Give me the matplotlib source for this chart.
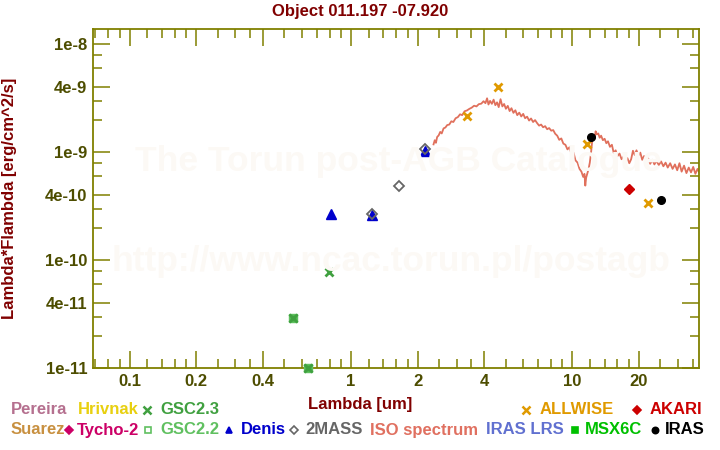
import matplotlib
matplotlib.use('Agg')
import matplotlib.pyplot as plt
from matplotlib.lines import Line2D
import numpy as np

plt.rcParams['font.family'] = ['Liberation Sans', 'DejaVu Sans']
plt.rcParams['font.weight'] = 'bold'

# photometry: wavelength [um], lambda*F_lambda [erg/cm^2/s]
gsc22_wl = [0.548, 0.641]
gsc22_flux = [2.9e-11, 1.0e-11]
gsc23_wl = [0.548, 0.641, 0.798]
gsc23_flux = [2.9e-11, 1.0e-11, 7.7e-11]
denis_wl = [0.81, 1.24, 2.15]
denis_flux = [2.67e-10, 2.6e-10, 1.02e-9]
twomass_wl = [1.24, 1.65, 2.17]
twomass_flux = [2.67e-10, 4.84e-10, 1.07e-9]
allwise_wl = [3.35, 4.6, 11.6, 22.1]
allwise_flux = [2.18e-9, 4.0e-9, 1.19e-9, 3.37e-10]
akari_wl = [18.1]
akari_flux = [4.6e-10]
iras_wl = [12.1, 25.3]
iras_flux = [1.38e-9, 3.6e-10]

# ISO SWS spectrum, flux in units of 1e-10
iso_wl = [2.36, 2.39, 2.42, 2.45, 2.49, 2.53, 2.57, 2.62, 2.67, 2.72, 2.78, 2.84,
          2.90, 2.97, 3.04, 3.11, 3.18, 3.26, 3.34, 3.42, 3.51, 3.60, 3.69, 3.78,
          3.88, 3.97, 4.05, 4.12, 4.18, 4.25,
          4.33, 4.41, 4.49, 4.57, 4.65, 4.74, 4.83, 4.92, 5.01, 5.11, 5.21, 5.31,
          5.42, 5.53, 5.64, 5.76, 5.88, 6.00, 6.12, 6.25, 6.38, 6.51, 6.65, 6.79,
          6.93, 7.08, 7.23, 7.38, 7.54, 7.70, 7.86, 8.03, 8.20, 8.37, 8.55, 8.73,
          8.92, 9.11, 9.31, 9.51, 9.71, 9.92,
          10.13, 10.34, 10.56, 10.78, 11.00, 11.20, 11.35, 11.45, 11.55, 11.70,
          11.85, 12.00, 12.15, 12.30, 12.45, 12.60, 12.75, 12.90, 13.10,
          13.30, 13.50, 13.75, 14.00, 14.25, 14.50, 14.80, 15.10, 15.40, 15.70,
          16.00, 16.35, 16.70, 17.05, 17.40, 17.75, 18.10, 18.45, 18.80, 19.15,
          19.50, 19.90, 20.30, 20.70, 21.10, 21.55, 22.00, 22.50, 23.00, 23.50,
          24.00, 24.60, 25.20, 25.80, 26.40, 27.00, 27.70, 28.40, 29.10, 29.80,
          30.50, 31.20, 32.00, 32.80, 33.60, 34.40, 35.20, 36.00, 36.80, 37.60, 38.40]
iso_flux = [11.8, 12.9, 12.2, 13.8, 14.3, 15.4, 14.9, 16.6, 16.9, 17.8, 18.0, 19.3,
            19.0, 20.6, 21.1, 22.4, 22.0, 23.9, 24.3, 25.1, 25.8, 26.9, 26.5, 27.8,
            28.1, 29.6, 28.4, 31.5, 27.6, 29.8,
            28.0, 30.6, 27.2, 28.9, 26.1, 30.9, 26.5, 27.9, 25.2, 26.8, 24.0, 25.5,
            23.1, 24.4, 22.0, 23.2, 21.4, 22.6, 20.6, 21.3, 19.6, 20.5, 19.0, 19.8,
            18.6, 17.6, 18.0, 17.0, 17.4, 16.3, 16.7, 15.8, 16.0, 14.8, 14.2, 13.0,
            13.4, 12.0, 11.7, 10.6, 11.1, 9.6,
            9.9, 8.4, 8.0, 7.0, 6.6, 5.9, 6.3, 4.9, 5.8, 6.4,
            7.0, 8.0, 9.8, 12.6, 14.0, 13.2, 15.6, 14.6, 14.9,
            13.6, 14.2, 12.9, 13.3, 12.1, 12.6, 11.2, 11.7, 9.8, 10.4,
            9.2, 9.7, 8.6, 9.1, 8.2, 8.8, 7.9, 8.6, 10.3, 9.4,
            10.4, 9.3, 9.9, 8.5, 9.2, 8.1, 8.8, 7.8, 8.5, 7.7,
            8.3, 7.6, 8.2, 7.4, 8.0, 7.2, 7.9, 7.0, 7.7, 6.8,
            7.9, 6.6, 7.5, 6.4, 7.2, 6.5, 7.3, 6.3, 7.0, 6.4, 6.9]

x_major = [0.1, 0.2, 0.4, 1, 2, 4, 10, 20]
x_major_labels = ['0.1', '0.2', '0.4', '1', '2', '4', '10', '20']
x_minor = [0.07, 0.08, 0.09, 0.12, 0.14, 0.16, 0.18, 0.25, 0.3, 0.35,
           0.5, 0.6, 0.7, 0.8, 0.9, 1.2, 1.4, 1.6, 1.8, 2.5, 3, 3.5,
           5, 6, 7, 8, 9, 12, 14, 16, 18, 25, 30, 35]
y_major = [1e-11, 4e-11, 1e-10, 4e-10, 1e-9, 4e-9, 1e-8]
y_major_labels = ['1e-11', '4e-11', '1e-10', '4e-10', '1e-9', '4e-9', '1e-8']
y_minor = [2e-11, 3e-11, 6e-11, 8e-11, 2e-10, 3e-10, 6e-10, 8e-10,
           2e-9, 3e-9, 6e-9, 8e-9]

W, H = 720, 450
fig = plt.figure(figsize=(W / 100, H / 100), dpi=100)
ax = fig.add_axes([92.7 / W, 1 - 368.3 / H, (699.3 - 92.7) / W, (368.3 - 29.3) / H])

olive = '#808000'
ticklab = '#4d4d00'
dark_red = '#800000'
fs = 12

# faint watermark
fig.text(398 / W, 1 - 162 / H, 'The Torun post-AGB Catalogue', ha='center', va='center',
         fontsize=25.5, color='#fcf9f5', zorder=0)
fig.text(391 / W, 1 - 262 / H, 'http://www.ncac.torun.pl/postagb', ha='center', va='center',
         fontsize=25.5, color='#fcf9f5', zorder=0)
ax.patch.set_alpha(0)

ax.plot(iso_wl, np.array(iso_flux) * 1e-10, color='#e0705c', lw=1.3, zorder=2)

kw = dict(ls='none', clip_on=False, zorder=4)
ax.plot(gsc22_wl, gsc22_flux, marker='s', ms=6, mfc='#4cb84c', mec='#60c060', mew=1, **kw)
ax.plot(gsc23_wl, gsc23_flux, marker='x', ms=5.5, mec='#40a040', mew=2, **kw)
ax.plot(denis_wl, denis_flux, marker='^', ms=6.5, color='#0000cc', **kw)
ax.plot(twomass_wl, twomass_flux, marker='D', ms=5.5, mfc='none', mec='#666666', mew=1.3, **kw)
ax.plot(allwise_wl, allwise_flux, marker='x', ms=6, mec='#e09a00', mew=2, **kw)
ax.plot(akari_wl, akari_flux, marker='D', ms=5.5, color='#cc0000', **kw)
ax.plot(iras_wl, iras_flux, marker='o', ms=5.5, color='black', **kw)

ax.set_xscale('log')
ax.set_yscale('log')
ax.set_xlim(0.068, 37.5)
ax.set_ylim(1e-11, 1.37e-8)

ax.set_xticks(x_major)
ax.set_xticklabels(x_major_labels)
ax.set_xticks(x_minor, minor=True)
ax.set_xticklabels([], minor=True)
ax.set_yticks(y_major)
ax.set_yticklabels(y_major_labels)
ax.set_yticks(y_minor, minor=True)
ax.set_yticklabels([], minor=True)

ax.tick_params(which='both', direction='in', top=True, right=True, color=olive,
               labelcolor=ticklab, labelsize=fs, width=1.1)
ax.tick_params(which='major', length=12.5, pad=4)
ax.tick_params(which='minor', length=6.5)
for s in ax.spines.values():
    s.set_color(olive)
    s.set_linewidth(1.3)

fig.text(360 / W, 1 - 11.5 / H, 'Object 011.197 -07.920', ha='center', va='center',
         fontsize=fs, color=dark_red)
fig.text(360 / W, 1 - 404 / H, 'Lambda [um]', ha='center', va='center',
         fontsize=fs, color=dark_red)
fig.text(10 / W, 1 - 198 / H, 'Lambda*Flambda [erg/cm^2/s]', ha='center', va='center',
         rotation=90, fontsize=fs, color=dark_red)

# legend rows
legend_items = [
    (10.7, 410, None, 'Pereira', '#b5708f'),
    (77.7, 410, None, 'Hrivnak', '#e8d010'),
    (160.7, 410, ('x', 146.7, '#40a040', True), 'GSC2.3', '#40a040'),
    (540, 410, ('x', 525.7, '#e09a00', True), 'ALLWISE', '#e09a00'),
    (650, 410, ('D', 636.7, '#cc0000', True), 'AKARI', '#cc0000'),
    (10.7, 430, None, 'Suarez', '#c89040'),
    (77.3, 430, ('D', 68.5, '#cc0066', True), 'Tycho-2', '#cc0066'),
    (160.7, 430, ('s', 147.7, '#60c060', False), 'GSC2.2', '#60c060'),
    (240.7, 430, ('^', 228.7, '#0000cc', True), 'Denis', '#0000cc'),
    (305, 430, ('D', 293.7, '#666666', False), '2MASS', '#666666'),
    (370, 430, None, 'ISO spectrum', '#e07060'),
    (485.7, 430, None, 'IRAS LRS', '#6070d0'),
    (585, 430, ('s', 575.3, '#00c000', True), 'MSX6C', '#00c000'),
    (665, 430, ('o', 655, 'black', True), 'IRAS', 'black'),
]
for tx, ty, mk, label, col in legend_items:
    fig.text(tx / W, 1 - ty / H, label, ha='left', va='center', fontsize=fs, color=col)
    if mk is not None:
        m, mx, mc, filled = mk
        fig.add_artist(Line2D([mx / W], [1 - ty / H], marker=m, ms=4.5 if m != 'x' else 5.5,
                              mfc=mc if filled else 'none', mec=mc,
                              mew=1.8 if m == 'x' else 1.2, ls='none',
                              transform=fig.transFigure))

fig.savefig('out.png', dpi=100)
